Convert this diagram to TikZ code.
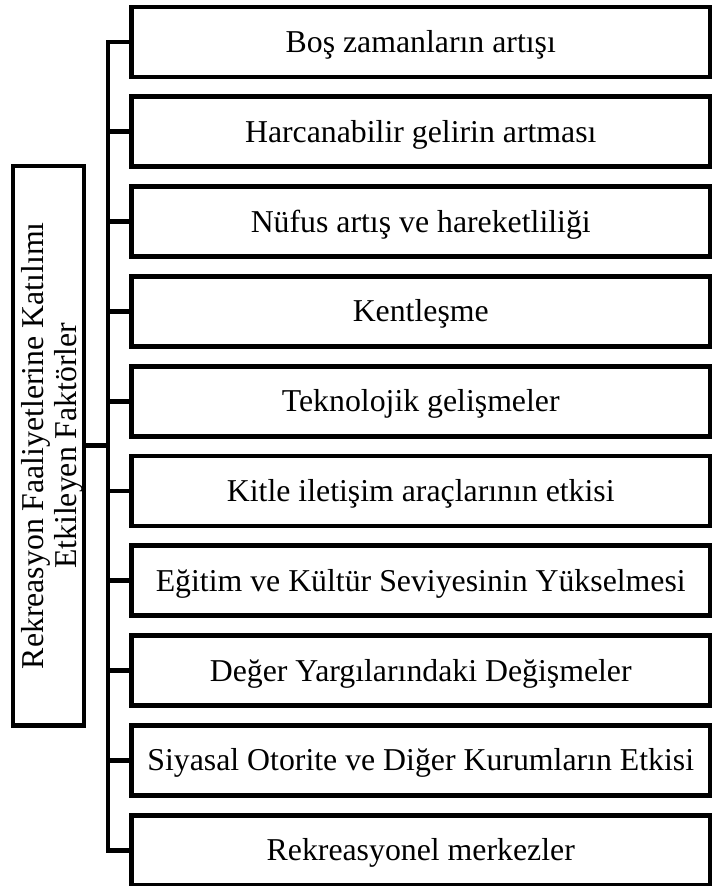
\documentclass[tikz,border=0pt]{standalone}
\usepackage{fontspec}
\setmainfont{Liberation Serif}
\begin{document}
\begin{tikzpicture}[x=1pt,y=-1pt,
  every node/.style={font=\fontsize{31.8}{34}\selectfont},
  factor/.style={draw, line width=4.8pt, inner sep=0pt, minimum width=578.5pt,
    minimum height=70pt, text height=21pt, text depth=0pt},
  rootbox/.style={draw, line width=4.8pt, inner sep=0pt,
    minimum width=71pt, minimum height=559.5pt},
  roottext/.style={rotate=90, inner sep=0pt},
  link/.style={line width=4.8pt}]
\useasboundingbox (0,0) rectangle (717,886);

% factor boxes on the right
\foreach \t [count=\i] in {Boş zamanların artışı, Harcanabilir gelirin artması,
  Nüfus artış ve hareketliliği, Kentleşme, Teknolojik gelişmeler,
  Kitle iletişim araçlarının etkisi, Eğitim ve Kültür Seviyesinin Yükselmesi,
  Değer Yargılarındaki Değişmeler, Siyasal Otorite ve Diğer Kurumların Etkisi,
  Rekreasyonel merkezler}
  \node[factor] (b\i) at (420.75, {42+89.8*(\i-1)}) {\t};

% root box on the left with its vertical two-line title
\node[rootbox] (root) at (48.5, 445.75) {};
\node[roottext] (rootlabel) at (52.5, 445.75)
  {\vbox{\baselineskip=33.5pt
    \halign{\hfil#\hfil\cr
      Rekreasyon Faaliyetlerine Katılımı\cr
      Etkileyen Faktörler\cr}}};

% vertical bus and branches
\coordinate (busx) at (108,0);
\draw[link] (b1.west) -- (b1.west -| busx) -- (b10.west -| busx) -- (b10.west);
\foreach \i in {2,...,9}
  \draw[link] (b\i.west -| busx) -- (b\i.west);
\draw[link] (root.east) -- (root.east -| busx);
\end{tikzpicture}
\end{document}
